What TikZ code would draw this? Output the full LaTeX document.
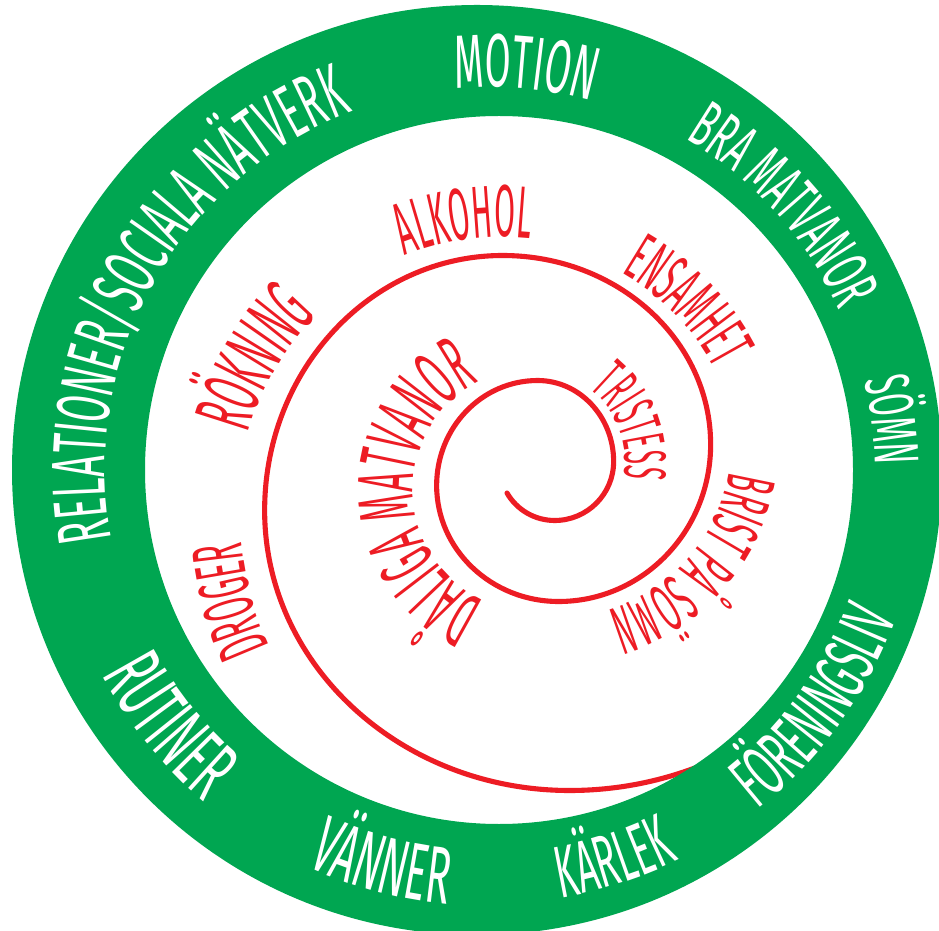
\documentclass[tikz,border=0pt]{standalone}
\usepackage{fontspec}
\usepackage{tikz}
\usetikzlibrary{decorations.text}
\newfontfamily\handfont[FakeStretch=0.5]{Fira Sans}
\newfontfamily\handnarrow[FakeStretch=0.41]{Fira Sans}
\definecolor{RingGreen}{HTML}{00A651}
\definecolor{SpiralRed}{HTML}{ED1C24}

\begin{document}
\begin{tikzpicture}[x=0.02cm, y=0.02cm,
  ring/.style={fill=RingGreen, even odd rule},
  spiral/.style={draw=SpiralRed, line width=2.9pt, line cap=round},
  ringword/.style 2 args={decorate, decoration={text along path, text align=center, text color=white, text={|\handfont\fontsize{#1}{#1}\selectfont|#2}}},
  spiralword/.style 2 args={decorate, decoration={text along path, text align=center, text color=SpiralRed, text={|\handnarrow\fontsize{#1}{#1}\selectfont|#2}}}]

\useasboundingbox[fill=white] (0,0) rectangle (939,930);

% spiral, drawn before the ring so that its end runs under it
\draw[spiral] (507,437) arc[start angle=210, end angle=270, radius=55]
  arc[start angle=270, end angle=360, x radius=59, y radius=59]
  arc[start angle=0, end angle=90, x radius=76, y radius=81]
  arc[start angle=90, end angle=180, x radius=101, y radius=105]
  arc[start angle=180, end angle=270, x radius=122, y radius=116]
  arc[start angle=270, end angle=360, x radius=152, y radius=157]
  arc[start angle=0, end angle=90, x radius=208, y radius=189]
  arc[start angle=90, end angle=180, x radius=238, y radius=255]
  arc[start angle=180, end angle=270, x radius=305, y radius=280]
  arc[start angle=270, end angle=318, x radius=340, y radius=320];

\path[ring] (477,460) circle[radius=465] (499,460) circle[radius=354];

% ring words, upper half clockwise
\path[ringword={43}{MOTION}] (488,460) ++(144.6:383) arc[start angle=144.6, end angle=24.6, radius=383];
\path[ringword={38}{BRA MATVANOR}] (488,460) ++(101.8:386) arc[start angle=101.8, end angle=-18.2, radius=386];
\path[ringword={36}{SÖMN}] (488,460) ++(67:387) arc[start angle=67, end angle=-53, radius=387];
\path[ringword={43}{RELATIONER/SOCIALA NÄTVERK}] (488,460) ++(230.5:383) arc[start angle=230.5, end angle=70.5, radius=383];

% ring words, lower half anticlockwise
\path[ringword={42}{FÖRENINGSLIV}] (488,460) ++(-95.7:434) arc[start angle=-95.7, end angle=24.3, radius=434];
\path[ringword={42}{KÄRLEK}] (488,460) ++(-132.1:434) arc[start angle=-132.1, end angle=-12.1, radius=434];
\path[ringword={46}{VÄNNER}] (488,460) ++(-165:436) arc[start angle=-165, end angle=-45, radius=436];
\path[ringword={48}{RUTINER}] (488,460) ++(-201.3:437) arc[start angle=-201.3, end angle=-81.3, radius=437];

% words along the spiral
\path[spiralword={42}{ALKOHOL}] (503,430) ++(158:263) arc[start angle=158, end angle=38, radius=263];
\path[spiralword={39}{ENSAMHET}] (503,450) ++(104:239) arc[start angle=104, end angle=-16, radius=239];
\path[spiralword={34}{TRISTESS}] (530,468) ++(100.7:95) arc[start angle=100.7, end angle=-59.3, radius=95];
\path[spiralword={39}{BRIST PÅ SÖMN}] (559,485) ++(48.7:172) arc[start angle=48.7, end angle=-131.3, radius=172];
\path[spiralword={45}{DÅLIGA MATVANOR}] (535,440) ++(291.5:122) arc[start angle=291.5, end angle=71.5, radius=122];
\path[spiralword={46}{RÖKNING}] (503,425) ++(209.5:265) arc[start angle=209.5, end angle=89.5, radius=265];
\path[spiralword={41}{DROGER}] (570,419) ++(234.8:330) arc[start angle=234.8, end angle=154.8, radius=330];
\end{tikzpicture}
\end{document}
